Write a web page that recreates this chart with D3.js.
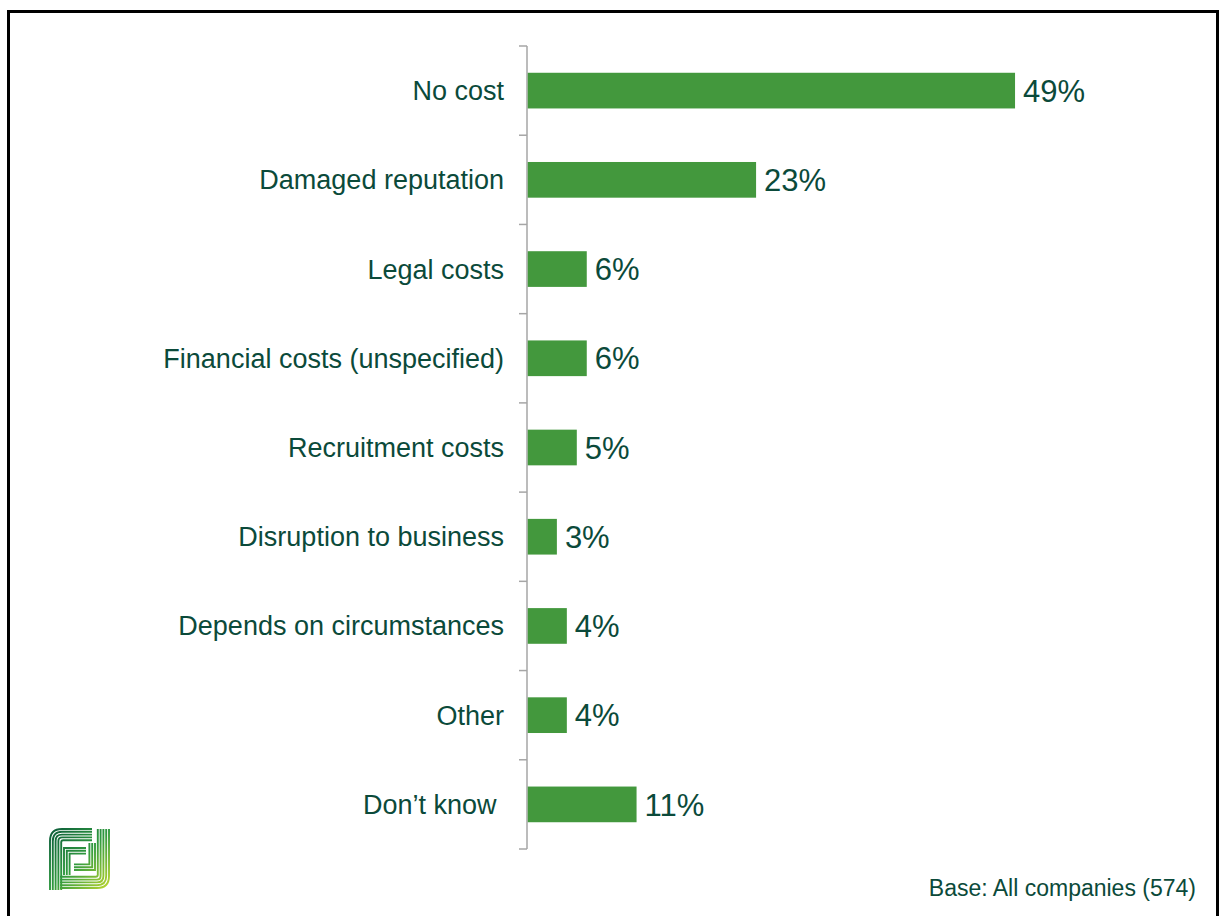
<!DOCTYPE html>
<html>
<head>
<meta charset="utf-8">
<script src="https://cdn.jsdelivr.net/npm/d3@7"></script>
<style>
  html, body { margin: 0; padding: 0; background: #fff; }
  svg { display: block; }
  text { font-family: "Liberation Sans", Arial, sans-serif; }
</style>
</head>
<body>
<script>
// Reported costs, share of companies (%)
const categories = [
  "No cost",
  "Damaged reputation",
  "Legal costs",
  "Financial costs (unspecified)",
  "Recruitment costs",
  "Disruption to business",
  "Depends on circumstances",
  "Other",
  "Don\u2019t know "
];
const values = [49, 23, 6, 6, 5, 3, 4, 4, 11];
const baseNote = "Base: All companies (574)";

const W = 1224, H = 916;
const textColor = "#0b4a3a";
const barColor = "#43983d";
const axisColor = "#a6a6a6";

const svg = d3.select("body").append("svg")
  .attr("width", W).attr("height", H);

// frame
svg.append("path")
  .attr("d", `M8.5,${H + 5} V11.5 H1217.5 V${H + 5}`)
  .attr("fill", "none").attr("stroke", "#000").attr("stroke-width", 3);

const y = d3.scaleBand()
  .domain(categories)
  .range([46, 849])
  .paddingInner(0.6)
  .paddingOuter(0.3);

const x = d3.scaleLinear().domain([0, 50]).range([527, 1025]);

const data = categories.map((c, i) => ({ cat: c, v: values[i] }));

// axis line with tick marks at band boundaries
const g = svg.append("g");
g.append("line")
  .attr("x1", x(0)).attr("x2", x(0))
  .attr("y1", y.range()[0]).attr("y2", y.range()[1])
  .attr("stroke", axisColor).attr("stroke-width", 1.5);

const step = y.step();
const boundaries = d3.range(categories.length + 1).map(i => y.range()[0] + i * step);
g.selectAll("line.tick").data(boundaries).join("line")
  .attr("class", "tick")
  .attr("x1", x(0) - 8).attr("x2", x(0))
  .attr("y1", d => d).attr("y2", d => d)
  .attr("stroke", axisColor).attr("stroke-width", 1.5);

// bars
svg.selectAll("rect.bar").data(data).join("rect")
  .attr("class", "bar")
  .attr("x", x(0) + 0.75)
  .attr("y", d => y(d.cat))
  .attr("width", d => x(d.v) - x(0) - 0.75)
  .attr("height", y.bandwidth())
  .attr("fill", barColor);

// category labels
svg.selectAll("text.cat").data(data).join("text")
  .attr("class", "cat")
  .attr("x", x(0) - 23)
  .attr("y", d => y(d.cat) + y.bandwidth() / 2)
  .attr("dy", "0.35em")
  .attr("text-anchor", "end")
  .attr("font-size", 27)
  .attr("fill", textColor)
  .style("white-space", "pre")
  .text(d => d.cat);

// value labels
svg.selectAll("text.val").data(data).join("text")
  .attr("class", "val")
  .attr("x", d => x(d.v) + 8)
  .attr("y", d => y(d.cat) + y.bandwidth() / 2)
  .attr("dy", "0.36em")
  .attr("font-size", 31)
  .attr("fill", textColor)
  .text(d => d.v + "%");

// base note
svg.append("text")
  .attr("x", 1196).attr("y", 896)
  .attr("text-anchor", "end")
  .attr("font-size", 23)
  .attr("fill", textColor)
  .text(baseNote);

// logo: striped F and J
const logo = svg.append("g").attr("transform", "translate(49,828)");
const defs = svg.append("defs");
const grad = defs.append("linearGradient").attr("id", "logoGrad")
  .attr("gradientUnits", "userSpaceOnUse")
  .attr("x1", 0).attr("y1", 0).attr("x2", 62).attr("y2", 62);
grad.append("stop").attr("offset", "0").attr("stop-color", "#0a5a3a");
grad.append("stop").attr("offset", "0.5").attr("stop-color", "#2f993f");
grad.append("stop").attr("offset", "1").attr("stop-color", "#c4da2e");

const pitch = 2.8, sw = 1.9, n = 5;
const stripes = [];
for (let i = 0; i < n; i++) {
  const o = i * pitch + 1;
  const r = Math.max(13 - o, 2);
  // F: vertical stem and top bar
  stripes.push(`M${o},62 V${o + r} Q${o},${o} ${o + r},${o} H43`);
  // J: vertical stem and bottom bar
  const e = 61 - o;
  stripes.push(`M${e},1 V${e - r} Q${e},${e} ${e - r},${e} H11`);
}
for (let j = 0; j < 3; j++) {
  const o = n * pitch + 1 + j * pitch;
  // F inner crossbar
  stripes.push(`M${o},47 V${20 + j * pitch} H37`);
  // J inner crossbar
  const e = 61 - o;
  stripes.push(`M${e},15 V${42 - j * pitch} H25`);
}
logo.selectAll("path").data(stripes).join("path")
  .attr("d", d => d)
  .attr("fill", "none")
  .attr("stroke", "url(#logoGrad)")
  .attr("stroke-width", sw);
</script>
</body>
</html>
